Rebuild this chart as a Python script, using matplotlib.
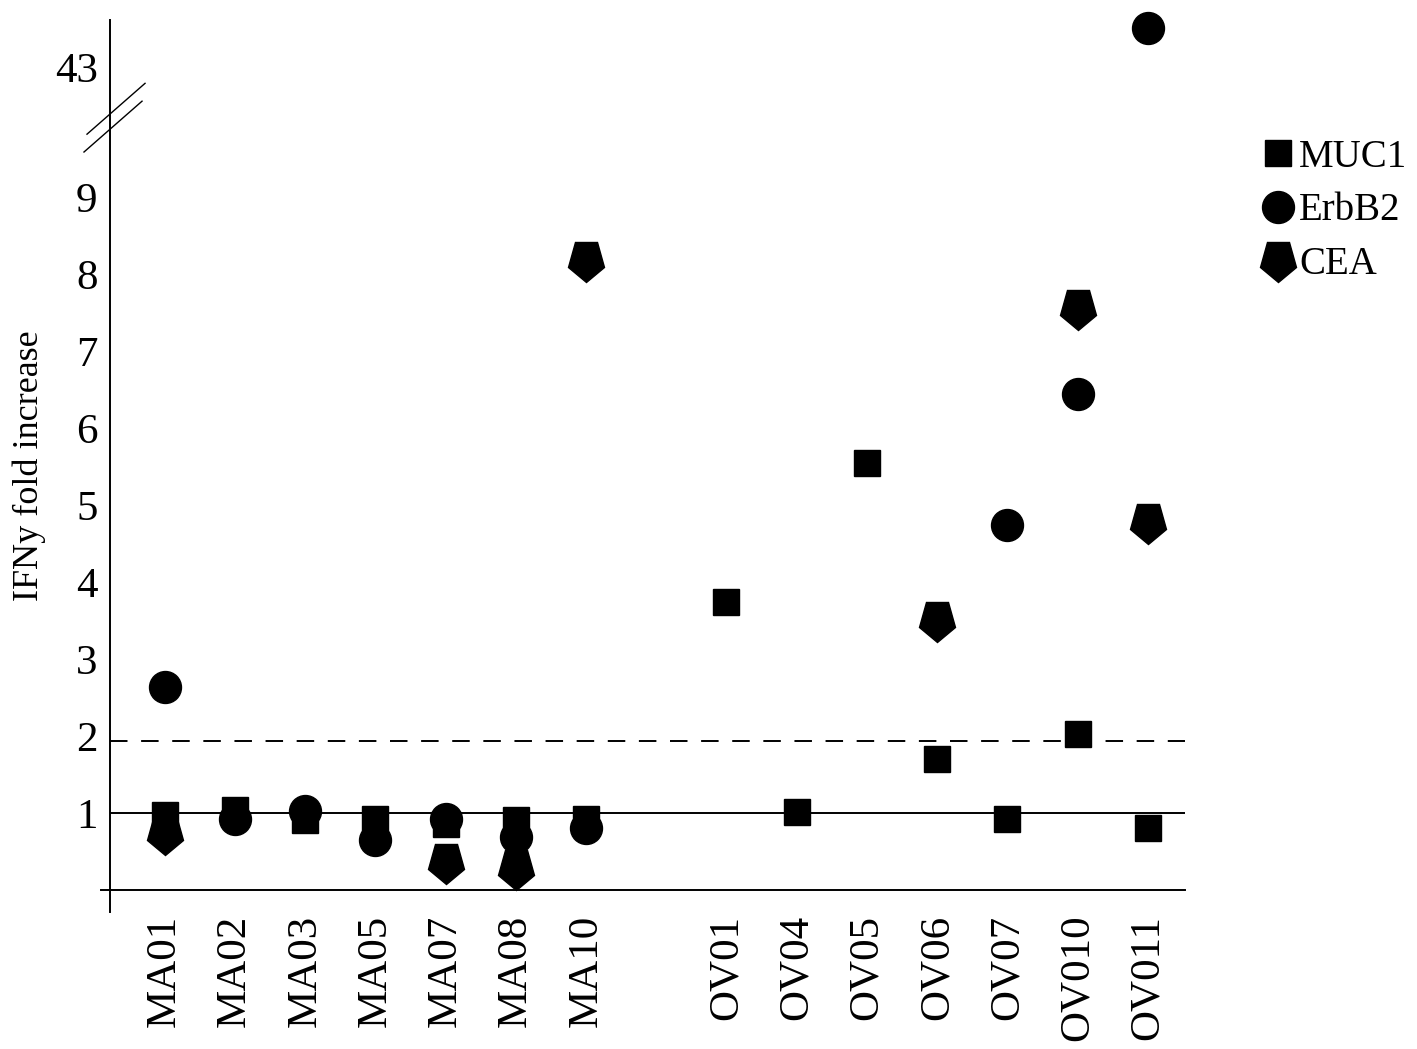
import numpy as np
import matplotlib
matplotlib.use("Agg")
import matplotlib.pyplot as plt
from matplotlib.markers import MarkerStyle
from matplotlib.transforms import Affine2D

plt.rcParams['font.family'] = ['Liberation Serif', 'DejaVu Serif']

# data
patients = ['MA01', 'MA02', 'MA03', 'MA05', 'MA07', 'MA08', 'MA10',
            'OV01', 'OV04', 'OV05', 'OV06', 'OV07', 'OV010', 'OV011']
xpos = [0, 1, 2, 3, 4, 5, 6, 8, 9, 10, 11, 12, 13, 14]
nan = np.nan
muc1 = [0.97, 1.04, 0.91, 0.92, 0.86, 0.91, 0.92, 3.74, 1.01, 5.55, 1.70, 0.92, 2.03, 0.80]
erbb2 = [2.64, 0.92, 1.03, 0.65, 0.92, 0.69, 0.81, nan, nan, nan, nan, 4.74, 6.44, 43.51]
cea = [0.74, nan, nan, nan, 0.36, 0.29, 8.18, nan, nan, nan, 3.51, nan, 7.56, 4.78]
yticks = [1, 2, 3, 4, 5, 6, 7, 8, 9, 43]
cutoff = 1.93

# broken y axis: squeeze 9.6..42 into a tiny band
def fwd(v):
    return np.interp(v, [-100, 9.6, 42, 200], [-100, 9.6, 9.68, 167.68])

def inv(p):
    return np.interp(p, [-100, 9.6, 9.68, 167.68], [-100, 9.6, 42, 200])

fig = plt.figure(figsize=(14.17, 10.49), dpi=100)
ax = fig.add_axes([110/1417, 1-912/1049, 1075/1417, 892/1049])
ax.set_yscale('function', functions=(fwd, inv))

pent = MarkerStyle('p', transform=Affine2D().rotate_deg(180).scale(0.95, 1.08))
ax.plot(xpos, muc1, 's', ms=19, color='black', label='MUC1', clip_on=False)
ax.plot(xpos, erbb2, 'o', ms=23, color='black', label='ErbB2', clip_on=False)
ax.plot(xpos, cea, marker=pent, ls='none', ms=29, color='black', label='CEA', clip_on=False)

ax.axhline(0, xmin=-0.008, xmax=1, color='black', lw=1.4, clip_on=False)
ax.axhline(1, color='black', lw=1.4)
ax.axhline(cutoff, color='black', lw=1.4, ls=(0, (9, 7)))

ax.set_xlim(-0.78, 14.53)
ax.set_ylim(-0.286, 43.62)
ax.set_yticks(yticks)
ax.set_yticklabels([str(t) for t in yticks])
ax.yaxis.set_minor_locator(matplotlib.ticker.NullLocator())
ax.set_xticks(xpos)
ax.set_xticklabels(patients, rotation=90)
ax.tick_params(axis='y', length=0, pad=9, labelsize=31)
ax.tick_params(axis='x', length=0, pad=2, labelsize=31)
ax.set_ylabel('IFNy fold increase', fontsize=26, labelpad=6)

for s in ['top', 'right', 'bottom']:
    ax.spines[s].set_visible(False)
ax.spines['left'].set_linewidth(1.4)

# break marks on the axis
ax.plot([-0.0214, 0.0326], [0.872, 0.929], transform=ax.transAxes, color='black', lw=1, clip_on=False)
ax.plot([-0.0242, 0.0298], [0.852, 0.909], transform=ax.transAxes, color='black', lw=1, clip_on=False)

ax.legend(loc='upper left', bbox_to_anchor=(1262/1417, 1-139/1049), bbox_transform=fig.transFigure,
          frameon=False, fontsize=28, handlelength=0.8, handletextpad=0.15,
          labelspacing=0.42, borderpad=0, borderaxespad=0)

fig.savefig('out.png', dpi=100)
